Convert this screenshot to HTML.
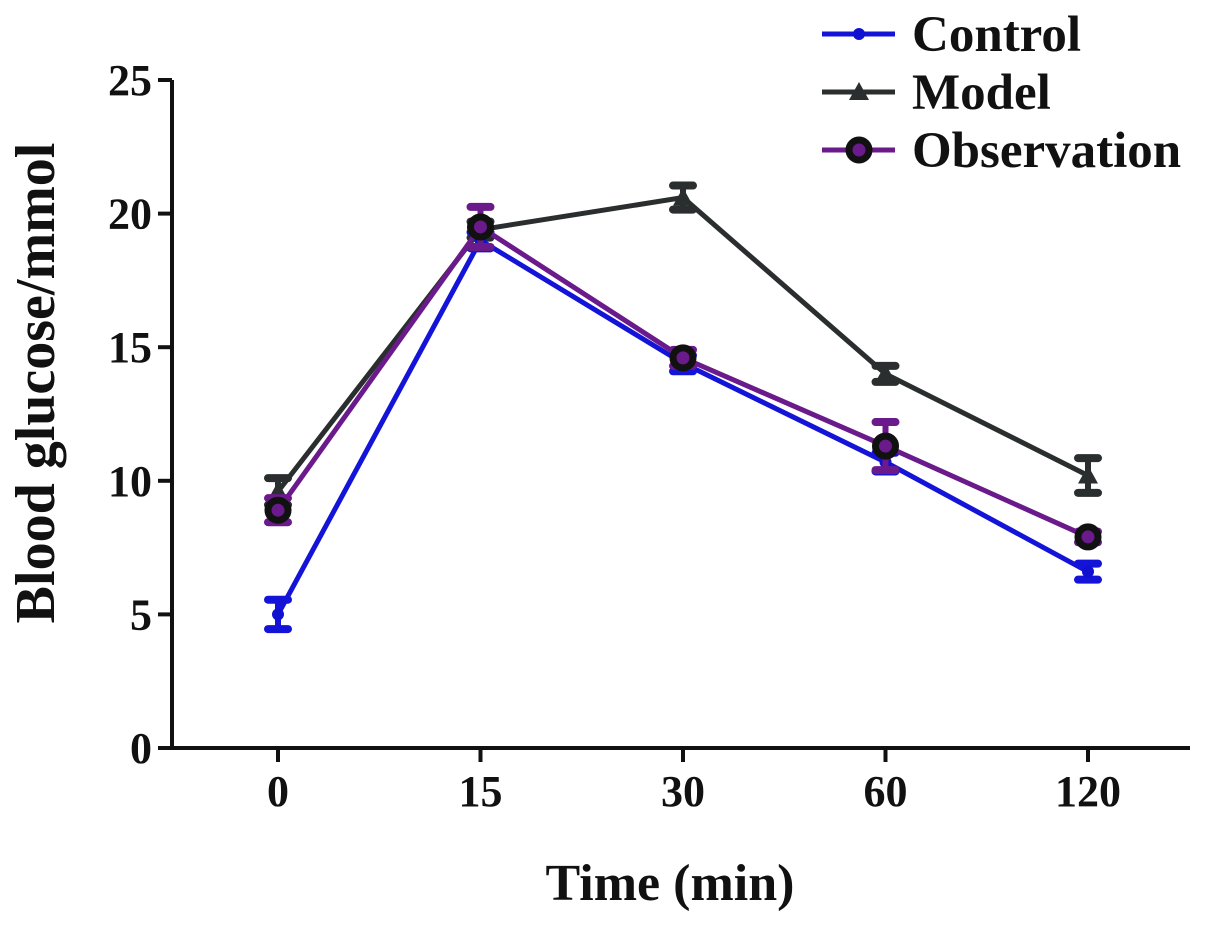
<!DOCTYPE html>
<html><head><meta charset="utf-8"><style>
body{margin:0;background:#fff}
text{font-family:"Liberation Serif",serif;font-weight:bold;fill:#111}
</style></head><body>
<svg width="1205" height="921" xmlns="http://www.w3.org/2000/svg">
<g id="axes"></g><g id="series"></g><g id="legend"></g>
</svg>
<script>
const categories=["0","15","30","60","120"];
const yTicks=[0,5,10,15,20,25];
const controlValues=[5.0,19.0,14.4,10.7,6.6];
const controlErrors=[0.55,0.3,0.3,0.35,0.3];
const modelValues=[9.6,19.4,20.6,14.0,10.2];
const modelErrors=[0.5,0.3,0.45,0.3,0.65];
const obsValues=[8.9,19.5,14.6,11.3,7.9];
const obsErrors=[0.45,0.75,0.3,0.9,0.2];
const NS="http://www.w3.org/2000/svg";
const x0=172,x1=1190,yBase=748,yTop=80;
const yScale=v=>yBase-(v/25)*(yBase-yTop);
const xScale=i=>278+i*202.5;
function mk(tag,attrs,parent){const e=document.createElementNS(NS,tag);for(const k in attrs)e.setAttribute(k,attrs[k]);parent.appendChild(e);return e;}
const axes=document.getElementById('axes');
let yl=mk('line',{x1:x0,y1:yTop,x2:x0,y2:yBase,stroke:'#111','stroke-width':4},axes);


let xl=mk('line',{x1:x0-2,y1:yBase,x2:x1,y2:yBase,stroke:'#111','stroke-width':4},axes);


yTicks.forEach(v=>{const y=yScale(v);
 mk('line',{x1:x0-14,y1:y,x2:x0,y2:y,stroke:'#111','stroke-width':4},axes);
 const t=mk('text',{x:x0-20,y:y+15,'text-anchor':'end','font-size':44},axes);t.textContent=v;
 
 });
categories.forEach((c,i)=>{const x=xScale(i);
 mk('line',{x1:x,y1:yBase,x2:x,y2:yBase+14,stroke:'#111','stroke-width':4},axes);
 const t=mk('text',{x:x,y:yBase+58,'text-anchor':'middle','font-size':44},axes);t.textContent=c;
 
 });
let xt=mk('text',{x:670,y:900,'text-anchor':'middle','font-size':52},axes);xt.textContent='Time (min)';


let yt=mk('text',{x:0,y:0,'text-anchor':'middle','font-size':56,transform:'translate(54,383) rotate(-90)'},axes);yt.textContent='Blood glucose/mmol';


const ser=document.getElementById('series');
function drawSeries(name,vals,errs,color,marker){
 const g=mk('g',{},ser);
 
 
 mk('polyline',{points:vals.map((v,i)=>xScale(i)+','+yScale(v)).join(' '),fill:'none',stroke:color,'stroke-width':5},g);
 vals.forEach((v,i)=>{const x=xScale(i),yh=yScale(v+errs[i]),yl2=yScale(v-errs[i]);
  mk('line',{x1:x,y1:yh,x2:x,y2:yl2,stroke:color,'stroke-width':6},g);
  mk('line',{x1:x-10,y1:yh,x2:x+10,y2:yh,stroke:color,'stroke-width':8,'stroke-linecap':'round'},g);
  mk('line',{x1:x-10,y1:yl2,x2:x+10,y2:yl2,stroke:color,'stroke-width':8,'stroke-linecap':'round'},g);
  const m=marker(x,yScale(v),g);
  
  
 });}
const ctrlM=(x,y,g)=>mk('circle',{cx:x,cy:y,r:6,fill:'#1010d0'},g);
const modM=(x,y,g)=>mk('path',{d:`M${x-10},${y+8}L${x},${y-10}L${x+10},${y+8}Z`,fill:'#2a2e2e'},g);
const obsM=(x,y,g)=>mk('circle',{cx:x,cy:y,r:10,fill:'#6a1a8a',stroke:'#111','stroke-width':7},g);
drawSeries('model',modelValues,modelErrors,'#2a2e2e',modM);
drawSeries('control',controlValues,controlErrors,'#1414d8',ctrlM);
drawSeries('observation',obsValues,obsErrors,'#6a1a8a',obsM);
const lg=document.getElementById('legend');
[['Control','#1414d8',ctrlM,34],['Model','#2a2e2e',modM,92],['Observation','#6a1a8a',obsM,150]].forEach(([n,c,m,y])=>{
 const g=mk('g',{},lg);
 
 
 mk('line',{x1:822,y1:y,x2:895,y2:y,stroke:c,'stroke-width':5},g);
 m(859,y,g);
 const t=mk('text',{x:912,y:y+17,'font-size':51},g);t.textContent=n;});
</script>
</body></html>
